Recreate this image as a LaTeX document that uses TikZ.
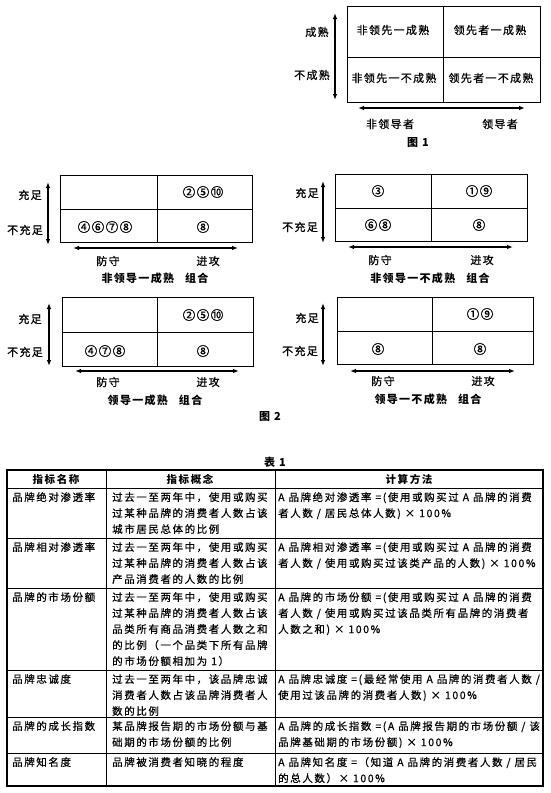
\documentclass[tikz,border=0pt]{standalone}
\usepackage{fontspec}
\setmainfont{Noto Sans CJK SC}[LetterSpace=12,UprightFeatures={FakeBold=0.6}]
\newfontfamily\tabcjk{Noto Sans CJK SC}[LetterSpace=15,UprightFeatures={FakeBold=0.5}]
\usetikzlibrary{arrows.meta}
\begin{document}
\begin{tikzpicture}[x=1pt,y=-1pt,
  quad/.style={draw,line width=1pt},
  axis/.style={line width=1.1pt,{Latex[length=6pt,width=4.5pt]}-{Latex[length=6pt,width=4.5pt]}},
  lab/.style={font=\fontsize{11}{13}\selectfont,inner sep=0pt},
  num/.style={font=\fontsize{12.5}{14}\selectfont,inner sep=0pt},
  captxt/.style={font=\fontsize{11}{13}\selectfont\bfseries,inner sep=0pt},
  tabtxt/.style={font=\tabcjk\fontsize{10.5}{16}\selectfont,align=left,anchor=north west,inner sep=0pt},
  tabhead/.style={font=\tabcjk\fontsize{10.5}{13}\selectfont\bfseries,inner sep=0pt},
  tabouter/.style={draw,line width=1.3pt},
  tabinner/.style={line width=0.8pt}]
\useasboundingbox[fill=white] (0,0) rectangle (550,793);

% ---------- Figure 1 ----------
\draw[quad] (347,6) rectangle (540,102);
\draw[quad] (443,6) -- (443,102);
\draw[quad] (347,57) -- (540,57);
\node[lab] (f1a) at (393,30) {非领先一成熟};
\node[lab] (f1b) at (490,30) {领先者一成熟};
\node[lab] (f1c) at (394,78) {非领先一不成熟};
\node[lab] (f1d) at (491,78) {领先者一不成熟};
\coordinate (f1vt) at (335,13); \coordinate (f1vb) at (335,100);
\draw[axis] (f1vt) -- (f1vb);
\coordinate (f1hl) at (358,108); \coordinate (f1hr) at (525,108);
\draw[axis] (f1hl) -- (f1hr);
\node[lab] (f1y1) at (317,32) {成熟};
\node[lab] (f1y2) at (312,75) {不成熟};
\node[lab] (f1x1) at (390,124) {非领导者};
\node[lab] (f1x2) at (500,124) {领导者};
\node[captxt] (fig1) at (418,143) {图 1};

% ---------- Figure 2, top left ----------
\draw[quad] (60,175) rectangle (252,242);
\draw[quad] (157,175) -- (157,242);
\draw[quad] (60,209) -- (252,209);
\node[num] (a1) at (203,192) {②⑤⑩};
\node[num] (a2) at (105,227) {④⑥⑦⑧};
\node[num] (a3) at (203,227) {⑧};
\coordinate (avt) at (48,182); \coordinate (avb) at (48,245);
\draw[axis] (avt) -- (avb);
\coordinate (ahl) at (73,248); \coordinate (ahr) at (238,248);
\draw[axis] (ahl) -- (ahr);
\node[lab] (ay1) at (30,195) {充足};
\node[lab] (ay2) at (25,230) {不充足};
\node[lab] (ax1) at (108,261) {防守};
\node[lab] (ax2) at (208,261) {进攻};
\node[captxt] (acap) at (155,278) {非领导一成熟\quad 组合};

% ---------- Figure 2, top right ----------
\draw[quad] (335,174) rectangle (527,241);
\draw[quad] (431,174) -- (431,241);
\draw[quad] (335,208) -- (527,208);
\node[num] (b0) at (378,191) {③};
\node[num] (b1) at (479,191) {①⑨};
\node[num] (b2) at (378,225) {⑥⑧};
\node[num] (b3) at (479,225) {⑧};
\coordinate (bvt) at (323,181); \coordinate (bvb) at (323,243);
\draw[axis] (bvt) -- (bvb);
\coordinate (bhl) at (348,247); \coordinate (bhr) at (513,247);
\draw[axis] (bhl) -- (bhr);
\node[lab] (by1) at (307,193) {充足};
\node[lab] (by2) at (300,227) {不充足};
\node[lab] (bx1) at (380,260) {防守};
\node[lab] (bx2) at (482,260) {进攻};
\node[captxt] (bcap) at (430,278) {非领导一不成熟\quad 组合};

% ---------- Figure 2, bottom left ----------
\draw[quad] (62,297) rectangle (253,366);
\draw[quad] (157,297) -- (157,366);
\draw[quad] (62,332) -- (253,332);
\node[num] (c1) at (203,315) {②⑤⑩};
\node[num] (c2) at (105,351) {④⑦⑧};
\node[num] (c3) at (203,351) {⑧};
\coordinate (cvt) at (49,303); \coordinate (cvb) at (49,366);
\draw[axis] (cvt) -- (cvb);
\coordinate (chl) at (75,371); \coordinate (chr) at (239,371);
\draw[axis] (chl) -- (chr);
\node[lab] (cy1) at (30,319) {充足};
\node[lab] (cy2) at (25,352) {不充足};
\node[lab] (cx1) at (108,382) {防守};
\node[lab] (cx2) at (208,382) {进攻};
\node[captxt] (ccap) at (155,400) {领导一成熟\quad 组合};

% ---------- Figure 2, bottom right ----------
\draw[quad] (337,297) rectangle (533,364);
\draw[quad] (432,297) -- (432,364);
\draw[quad] (337,331) -- (533,331);
\node[num] (d1) at (480,314) {①⑨};
\node[num] (d2) at (378,349) {⑧};
\node[num] (d3) at (480,349) {⑧};
\coordinate (dvt) at (323,303); \coordinate (dvb) at (323,366);
\draw[axis] (dvt) -- (dvb);
\coordinate (dhl) at (350,371); \coordinate (dhr) at (515,371);
\draw[axis] (dhl) -- (dhr);
\node[lab] (dy1) at (307,318) {充足};
\node[lab] (dy2) at (300,351) {不充足};
\node[lab] (dx1) at (383,381) {防守};
\node[lab] (dx2) at (483,381) {进攻};
\node[captxt] (dcap) at (428,399) {领导一不成熟\quad 组合};

\node[captxt] (fig2) at (270,417) {图 2};

% ---------- Table 1 ----------
\node[captxt] (tab1) at (275,462) {表 1};
\draw[tabinner] (7,488) -- (543,488);
\draw[tabinner] (7,538) -- (543,538);
\draw[tabinner] (7,588) -- (543,588);
\draw[tabinner] (7,670) -- (543,670);
\draw[tabinner] (7,717) -- (543,717);
\draw[tabinner] (7,753) -- (543,753);
\draw[tabinner] (106,470) -- (106,786);
\draw[tabinner] (275,470) -- (275,786);
\draw[tabouter] (7,470) rectangle (543,786);

\node[tabhead] (h1) at (56,479) {指标名称};
\node[tabhead] (h2) at (190,479) {指标概念};
\node[tabhead] (h3) at (409,479) {计算方法};

% row 1
\node[tabtxt] (r1a) at (12,492) {品牌绝对渗透率};
\node[tabtxt] (r1b) at (112,492) {过去一至两年中，使用或购买\\过某种品牌的消费者人数占该\\城市居民总体的比例};
\node[tabtxt] (r1c) at (278,492) {A 品牌绝对渗透率 =(使用或购买过 A 品牌的消费\\者人数 / 居民总体人数) × 100\%};
% row 2
\node[tabtxt] (r2a) at (12,542) {品牌相对渗透率};
\node[tabtxt] (r2b) at (112,542) {过去一至两年中，使用或购买\\过某种品牌的消费者人数占该\\产品消费者的人数的比例};
\node[tabtxt] (r2c) at (278,542) {A 品牌相对渗透率 =(使用或购买过 A 品牌的消费\\者人数 / 使用或购买过该类产品的人数) × 100\%};
% row 3
\node[tabtxt] (r3a) at (12,592) {品牌的市场份额};
\node[tabtxt] (r3b) at (112,592) {过去一至两年中，使用或购买\\过某种品牌的消费者人数占该\\品类所有商品消费者人数之和\\的比例（一个品类下所有品牌\\的市场份额相加为 1）};
\node[tabtxt] (r3c) at (278,592) {A 品牌的市场份额 =(使用或购买过 A 品牌的消费\\者人数 / 使用或购买过该品类所有品牌的消费者\\人数之和) × 100\%};
% row 4
\node[tabtxt] (r4a) at (12,674) {品牌忠诚度};
\node[tabtxt] (r4b) at (112,674) {过去一至两年中，该品牌忠诚\\消费者人数占该品牌消费者人\\数的比例};
\node[tabtxt] (r4c) at (278,674) {A 品牌忠诚度 =(最经常使用 A 品牌的消费者人数 /\\使用过该品牌的消费者人数) × 100\%};
% row 5
\node[tabtxt] (r5a) at (12,721) {品牌的成长指数};
\node[tabtxt] (r5b) at (112,721) {某品牌报告期的市场份额与基\\础期的市场份额的比例};
\node[tabtxt] (r5c) at (278,721) {A 品牌的成长指数 =(A 品牌报告期的市场份额 / 该\\品牌基础期的市场份额) × 100\%};
% row 6
\node[tabtxt] (r6a) at (12,757) {品牌知名度};
\node[tabtxt] (r6b) at (112,757) {品牌被消费者知晓的程度};
\node[tabtxt] (r6c) at (278,757) {A 品牌知名度 =（知道 A 品牌的消费者人数 / 居民\\的总人数）× 100\%};
\end{tikzpicture}
\end{document}
